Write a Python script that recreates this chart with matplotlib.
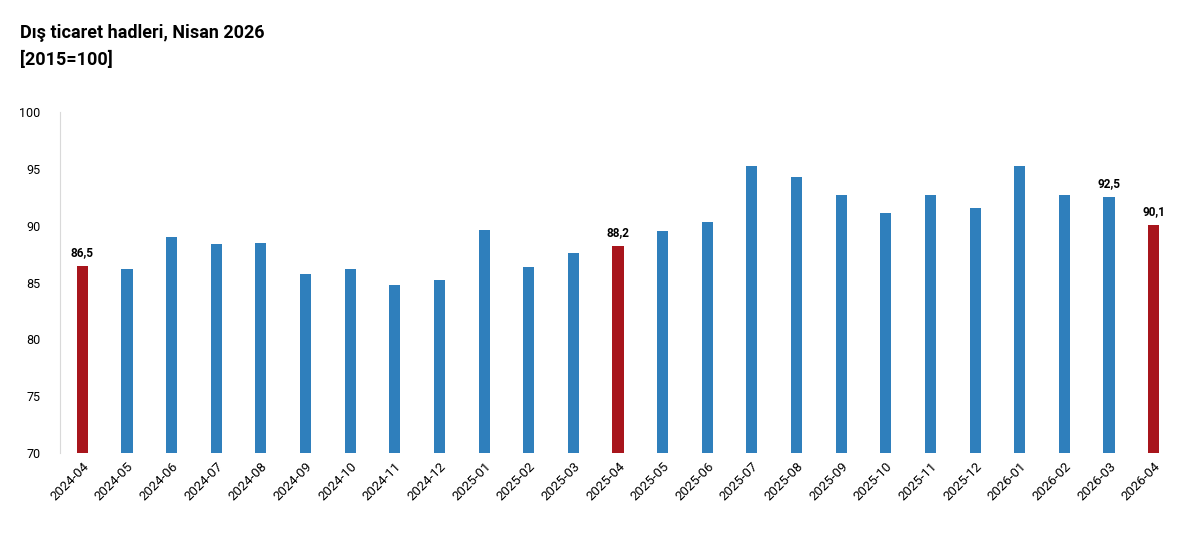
import matplotlib.pyplot as plt

months = ["2024-04", "2024-05", "2024-06", "2024-07", "2024-08", "2024-09", "2024-10",
          "2024-11", "2024-12", "2025-01", "2025-02", "2025-03", "2025-04", "2025-05",
          "2025-06", "2025-07", "2025-08", "2025-09", "2025-10", "2025-11", "2025-12",
          "2026-01", "2026-02", "2026-03", "2026-04"]
values = [86.5, 86.2, 89.0, 88.4, 88.5, 85.8, 86.2, 84.8, 85.2, 89.6, 86.4, 87.6, 88.2,
          89.5, 90.3, 95.3, 94.3, 92.7, 91.1, 92.7, 91.6, 95.3, 92.7, 92.5, 90.1]
highlight = ["2024-04", "2025-04", "2026-04"]
labelled = {"2024-04": "86,5", "2025-04": "88,2", "2026-03": "92,5", "2026-04": "90,1"}

plt.rcParams['font.family'] = ['Roboto', 'DejaVu Sans']
fig = plt.figure(figsize=(12, 5.44), dpi=100)
ax = fig.add_axes([0.05, 0.167, 0.93, 0.627])

colors = ["#a8151c" if m in highlight else "#2f7fbc" for m in months]
x = range(len(months))
ax.bar(x, values, width=0.25, color=colors)
for i, m in enumerate(months):
    if m in labelled:
        ax.text(i, values[i] + 0.6, labelled[m], ha="center", va="bottom",
                fontsize=8.5, fontweight="bold")

ax.set_ylim(70, 100)
ax.set_yticks(range(70, 101, 5))
ax.set_xlim(-0.5, len(months) - 0.5)
ax.set_xticks(list(x))
ax.set_xticklabels(months, rotation=45, ha="right", rotation_mode="anchor", fontsize=9.5)
ax.tick_params(axis="y", length=0, labelsize=9, pad=14)
ax.tick_params(axis="x", length=0, pad=5)
for s in ["top", "right", "bottom"]:
    ax.spines[s].set_visible(False)
ax.spines["left"].set_color("#d9d9d9")

fig.text(0.017, 0.93, "Dış ticaret hadleri, Nisan 2026", fontsize=13, fontweight="bold")
fig.text(0.017, 0.88, "[2015=100]", fontsize=13, fontweight="bold")

fig.savefig("out.png", dpi=100)
